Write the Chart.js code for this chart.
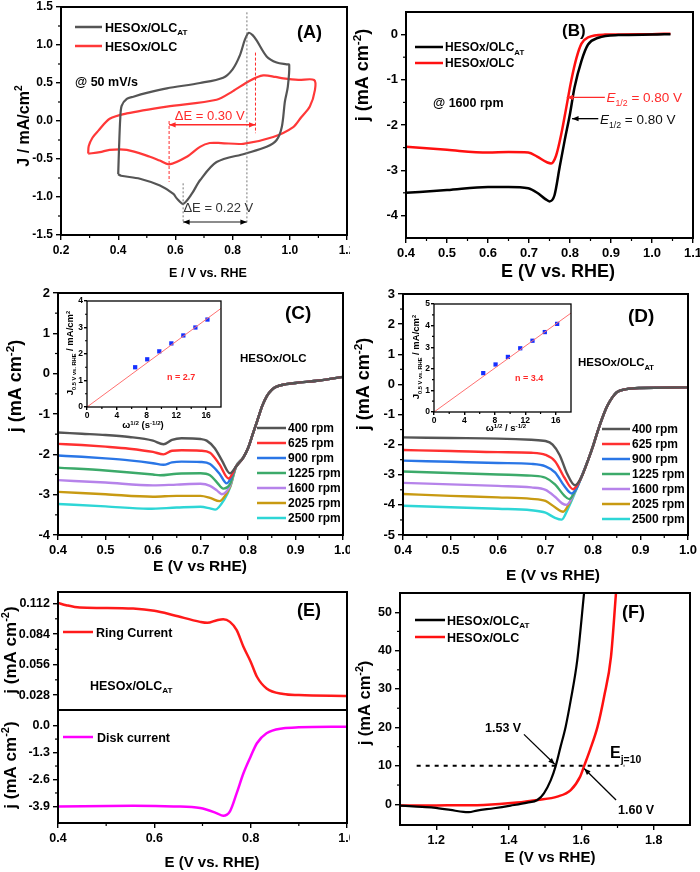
<!DOCTYPE html>
<html>
<head>
<meta charset="utf-8">
<script src="https://cdn.jsdelivr.net/npm/chart.js@4.4.1/dist/chart.umd.min.js"></script>
<style>
  body { margin: 0; background: #fff; width: 700px; height: 872px; position: relative; overflow: hidden; }
  canvas { position: absolute; }
</style>
</head>
<body>
<script>
// ---------- data ----------

// (A) cyclic voltammograms, E (V) / J (mA/cm2), closed loops
const cvAT = [[0.40,-0.70],[0.403,-0.35],[0.407,0.02],[0.412,0.20],[0.43,0.29],[0.453,0.32],[0.50,0.37],[0.57,0.43],[0.686,0.50],[0.767,0.57],[0.80,0.68],[0.825,0.86],[0.843,1.07],[0.856,1.16],[0.87,1.13],[0.884,1.06],[0.919,0.85],[0.954,0.77],[0.989,0.745],[0.998,0.74],[0.993,0.45],[0.983,0.26],[0.972,-0.08],[0.954,-0.25],[0.919,-0.34],[0.843,-0.43],[0.744,-0.54],[0.686,-0.78],[0.657,-0.96],[0.627,-1.09],[0.605,-1.02],[0.593,-0.96],[0.546,-0.85],[0.476,-0.76],[0.41,-0.72],[0.40,-0.70]];
const cvOLC = [[0.295,-0.43],[0.297,-0.33],[0.31,-0.22],[0.33,-0.13],[0.37,0.03],[0.43,0.10],[0.57,0.19],[0.744,0.28],[0.80,0.39],[0.86,0.53],[0.907,0.60],[0.95,0.58],[0.977,0.56],[1.03,0.54],[1.085,0.54],[1.088,0.41],[1.07,0.19],[1.04,0.05],[1.012,-0.08],[0.942,-0.21],[0.837,-0.30],[0.76,-0.29],[0.72,-0.29],[0.686,-0.34],[0.64,-0.47],[0.578,-0.57],[0.545,-0.52],[0.511,-0.47],[0.43,-0.38],[0.37,-0.38],[0.336,-0.41],[0.295,-0.43]];

// (B) LSV at 1600 rpm
const lsvAT = [[0.40,-3.50],[0.50,-3.44],[0.60,-3.37],[0.65,-3.37],[0.698,-3.40],[0.72,-3.50],[0.74,-3.64],[0.75,-3.69],[0.762,-3.56],[0.775,-2.92],[0.787,-2.34],[0.80,-1.75],[0.811,-1.17],[0.828,-0.58],[0.844,-0.22],[0.869,-0.07],[0.918,-0.01],[1.0,0.0],[1.045,0.01]];
const lsvOLC = [[0.40,-2.48],[0.50,-2.55],[0.60,-2.61],[0.65,-2.60],[0.698,-2.61],[0.72,-2.70],[0.745,-2.83],[0.754,-2.85],[0.766,-2.68],[0.779,-2.19],[0.791,-1.61],[0.803,-1.02],[0.816,-0.51],[0.828,-0.20],[0.844,-0.06],[0.885,0.0],[1.0,0.01],[1.045,0.02]];

// (C) HESOx/OLC at different rotation rates
const rpmLabels = ['400 rpm', '625 rpm', '900 rpm', '1225 rpm', '1600 rpm', '2025 rpm', '2500 rpm'];
const rpmColors = ['#555555', '#ff3030', '#2a76e6', '#3caa6a', '#b683ea', '#c89a12', '#2ed6d6'];
const cTail = [[0.775,-2.30],[0.79,-2.08],[0.80,-1.85],[0.81,-1.50],[0.82,-1.15],[0.83,-0.80],[0.84,-0.55],[0.85,-0.40],[0.86,-0.32],[0.88,-0.26],[0.90,-0.23],[0.95,-0.17],[1.0,-0.08]];
const c400 = [[0.40,-1.46],[0.45,-1.49],[0.50,-1.52],[0.55,-1.57],[0.60,-1.66],[0.622,-1.75],[0.64,-1.64],[0.66,-1.60],[0.70,-1.62],[0.713,-1.66],[0.73,-1.85],[0.745,-2.15],[0.762,-2.47]];
const c625 = [[0.40,-1.74],[0.45,-1.77],[0.50,-1.81],[0.55,-1.86],[0.60,-1.94],[0.622,-2.00],[0.64,-1.91],[0.66,-1.90],[0.70,-1.91],[0.72,-1.96],[0.74,-2.25],[0.759,-2.60]];
const c900 = [[0.40,-2.03],[0.45,-2.06],[0.50,-2.10],[0.55,-2.15],[0.60,-2.22],[0.622,-2.26],[0.64,-2.20],[0.66,-2.18],[0.70,-2.19],[0.72,-2.24],[0.74,-2.48],[0.755,-2.72]];
const c1225 = [[0.40,-2.33],[0.50,-2.40],[0.60,-2.50],[0.615,-2.52],[0.65,-2.48],[0.70,-2.47],[0.72,-2.52],[0.735,-2.70],[0.748,-2.85],[0.762,-2.74]];
const c1600 = [[0.40,-2.64],[0.50,-2.70],[0.60,-2.77],[0.65,-2.75],[0.70,-2.73],[0.72,-2.78],[0.735,-2.90],[0.745,-2.99],[0.762,-2.78]];
const c2025 = [[0.40,-2.93],[0.50,-2.99],[0.60,-3.05],[0.65,-3.03],[0.70,-3.03],[0.72,-3.08],[0.74,-3.16],[0.752,-3.02],[0.763,-2.78]];
const c2500 = [[0.40,-3.23],[0.50,-3.29],[0.59,-3.35],[0.65,-3.32],[0.70,-3.30],[0.72,-3.34],[0.731,-3.37],[0.75,-3.12],[0.763,-2.80]];

// (C) inset: Koutecky-Levich points
const klOmega = [6.47, 8.09, 9.71, 11.33, 12.94, 14.56, 16.18];
const klC = [1.50, 1.80, 2.10, 2.40, 2.70, 3.00, 3.30];
const klFitC = [[0, 0], [18, 3.72]];

// (D) HESOx/OLC_AT at different rotation rates
const dTail = [[0.775,-3.10],[0.79,-2.50],[0.80,-2.05],[0.81,-1.55],[0.82,-1.10],[0.83,-0.72],[0.84,-0.45],[0.85,-0.26],[0.87,-0.16],[0.90,-0.12],[1.0,-0.10]];
const d400 = [[0.40,-1.76],[0.50,-1.78],[0.60,-1.80],[0.67,-1.84],[0.70,-1.88],[0.715,-2.00],[0.73,-2.35],[0.745,-2.95],[0.762,-3.35]];
const d625 = [[0.40,-2.18],[0.50,-2.21],[0.60,-2.25],[0.67,-2.27],[0.70,-2.34],[0.72,-2.55],[0.74,-3.10],[0.758,-3.48]];
const d900 = [[0.40,-2.53],[0.50,-2.57],[0.60,-2.61],[0.67,-2.64],[0.70,-2.72],[0.72,-2.92],[0.74,-3.38],[0.755,-3.62],[0.765,-3.45]];
const d1225 = [[0.40,-2.89],[0.50,-2.94],[0.60,-2.99],[0.67,-3.03],[0.70,-3.10],[0.72,-3.32],[0.74,-3.70],[0.75,-3.81],[0.762,-3.55]];
const d1600 = [[0.40,-3.27],[0.50,-3.32],[0.60,-3.37],[0.67,-3.42],[0.70,-3.50],[0.72,-3.73],[0.735,-3.95],[0.744,-4.00],[0.758,-3.70]];
const d2025 = [[0.40,-3.64],[0.50,-3.70],[0.60,-3.75],[0.67,-3.80],[0.70,-3.87],[0.72,-4.08],[0.737,-4.23],[0.75,-3.95],[0.762,-3.55]];
const d2500 = [[0.40,-4.03],[0.50,-4.08],[0.60,-4.13],[0.67,-4.18],[0.70,-4.26],[0.72,-4.43],[0.734,-4.49],[0.748,-4.10],[0.762,-3.60]];

// (D) inset
const klD = [1.80, 2.20, 2.55, 2.95, 3.30, 3.70, 4.08];
const klFitD = [[0, 0], [18, 4.58]];

// (E) RRDE ring and disk currents
const ring = [[0.40,0.1126],[0.417,0.1105],[0.445,0.1083],[0.49,0.1080],[0.556,0.1074],[0.60,0.1053],[0.64,0.1013],[0.695,0.0952],[0.71,0.0943],[0.73,0.0967],[0.743,0.0976],[0.757,0.0952],[0.771,0.0876],[0.785,0.0723],[0.80,0.0586],[0.813,0.0448],[0.833,0.0341],[0.868,0.0290],[0.90,0.0280],[1.0,0.0271]];
const disk = [[0.40,-3.90],[0.556,-3.87],[0.64,-3.90],[0.695,-3.98],[0.729,-4.22],[0.743,-4.35],[0.757,-4.14],[0.771,-3.26],[0.785,-2.30],[0.80,-1.49],[0.813,-0.85],[0.833,-0.37],[0.868,-0.13],[0.90,-0.08],[1.0,-0.05]];

// (F) OER polarisation
const oerAT = [[1.10,-0.35],[1.146,-0.60],[1.192,-0.86],[1.239,-1.47],[1.275,-2.00],[1.29,-2.05],[1.312,-1.64],[1.359,-1.04],[1.405,-0.35],[1.451,0.43],[1.479,1.12],[1.497,2.85],[1.516,6.3],[1.529,9.8],[1.543,15.0],[1.557,20.2],[1.571,27.1],[1.589,37.5],[1.608,55.2]];
const oerOLC = [[1.10,-0.35],[1.20,-0.30],[1.331,-0.17],[1.423,0.43],[1.479,1.12],[1.534,2.0],[1.571,3.7],[1.597,7.2],[1.608,10.0],[1.624,14.1],[1.645,20.2],[1.663,28.0],[1.682,38.4],[1.696,55.2]];

// ---------- helpers ----------
const FONT = "'Liberation Sans', Arial, Helvetica, sans-serif";

function xy(pts) {
  return pts.map(p => ({ x: p[0], y: p[1] }));
}

function curve(pts, color, width, extra) {
  return Object.assign({
    data: xy(pts), borderColor: color, backgroundColor: color, borderWidth: width,
    pointRadius: 0, fill: false, cubicInterpolationMode: 'monotone'
  }, extra || {});
}

// text with sub/superscripts: parts = [[text, kind]], kind '' | 'sub' | 'sup' | 'i'
function drawRich(ctx, parts, x, y, o) {
  const weight = o.bold ? 'bold ' : '';
  const small = o.small || 0.65;
  const fontFor = k => {
    const sz = (k === 'sub' || k === 'sup') ? o.size * small : o.size;
    return (k === 'i' ? 'italic ' : '') + weight + sz + 'px ' + FONT;
  };
  ctx.save();
  ctx.fillStyle = o.color || '#000';
  ctx.textBaseline = 'alphabetic';
  let total = 0;
  parts.forEach(p => { ctx.font = fontFor(p[1]); total += ctx.measureText(p[0]).width; });
  ctx.translate(x, y);
  if (o.rotate) ctx.rotate(-Math.PI / 2);
  let cx = o.align === 'center' ? -total / 2 : 0;
  const base = o.size * 0.36;
  parts.forEach(p => {
    ctx.font = fontFor(p[1]);
    const dy = p[1] === 'sub' ? o.size * 0.3 : (p[1] === 'sup' ? -o.size * 0.4 : 0);
    ctx.fillText(p[0], cx, base + dy);
    cx += ctx.measureText(p[0]).width;
  });
  ctx.restore();
}

function head(ctx, x1, y1, x2, y2, size) {
  const ang = Math.atan2(y2 - y1, x2 - x1);
  ctx.beginPath();
  ctx.moveTo(x2, y2);
  ctx.lineTo(x2 - size * Math.cos(ang - 0.38), y2 - size * Math.sin(ang - 0.38));
  ctx.lineTo(x2 - size * Math.cos(ang + 0.38), y2 - size * Math.sin(ang + 0.38));
  ctx.closePath();
  ctx.fill();
}

// frame, minor ticks, annotations, legends and axis titles
function makeDeco(cfg) {
  return {
    id: 'deco',
    beforeDatasetsDraw(chart) {
      if (!cfg.bg) return;
      const a = chart.chartArea, ctx = chart.ctx;
      ctx.save();
      ctx.fillStyle = cfg.bg;
      ctx.fillRect(a.left, a.top, a.right - a.left, a.bottom - a.top);
      ctx.restore();
    },
    afterDraw(chart) {
      const ctx = chart.ctx, a = chart.chartArea;
      const xs = chart.scales.x, ys = chart.scales.y;
      const px = v => xs.getPixelForValue(v), py = v => ys.getPixelForValue(v);
      const ox = cfg.ox, oy = cfg.oy;
      ctx.save();

      // minor ticks halfway between the major ones
      const mids = t => t.slice(1).map((k, i) => (k.value + t[i].value) / 2);
      ctx.strokeStyle = '#000';
      ctx.lineWidth = 1.2;
      const ml = cfg.minorLen || 3;
      if (cfg.minorX !== false) {
        mids(xs.ticks).forEach(v => {
          const x = px(v);
          ctx.beginPath(); ctx.moveTo(x, a.bottom); ctx.lineTo(x, a.bottom + ml); ctx.stroke();
        });
      }
      if (cfg.minorY !== false) {
        mids(ys.ticks).forEach(v => {
          const y = py(v);
          ctx.beginPath(); ctx.moveTo(a.left - ml, y); ctx.lineTo(a.left, y); ctx.stroke();
        });
      }

      // dashed guide lines (data coordinates)
      (cfg.lines || []).forEach(l => {
        ctx.save();
        ctx.strokeStyle = l.color; ctx.lineWidth = l.w || 1;
        ctx.setLineDash(l.dash || []);
        ctx.beginPath();
        l.pts.forEach((p, i) => {
          const X = px(p[0]), Y = py(p[1]);
          if (i === 0) ctx.moveTo(X, Y); else ctx.lineTo(X, Y);
        });
        ctx.stroke();
        ctx.restore();
      });

      // arrows (data coordinates)
      (cfg.arrows || []).forEach(r => {
        const x1 = px(r.from[0]), y1 = py(r.from[1]), x2 = px(r.to[0]), y2 = py(r.to[1]);
        ctx.save();
        ctx.strokeStyle = r.color; ctx.fillStyle = r.head || r.color; ctx.lineWidth = r.w || 1.3;
        ctx.beginPath(); ctx.moveTo(x1, y1); ctx.lineTo(x2, y2); ctx.stroke();
        head(ctx, x1, y1, x2, y2, 7);
        if (r.both) head(ctx, x2, y2, x1, y1, 7);
        ctx.restore();
      });

      // legend entries (page coordinates)
      (cfg.legend || []).forEach(g => {
        ctx.save();
        ctx.strokeStyle = g.color; ctx.lineWidth = g.w || 2.5;
        ctx.beginPath(); ctx.moveTo(g.x1 - ox, g.y - oy); ctx.lineTo(g.x2 - ox, g.y - oy); ctx.stroke();
        ctx.restore();
        drawRich(ctx, g.parts, g.tx - ox, g.y - oy, { size: g.size, bold: true, color: '#000' });
      });

      // texts: page coordinates, or data coordinates when t.data is set
      (cfg.texts || []).forEach(t => {
        const X = t.data ? px(t.x) : t.x - ox;
        const Y = t.data ? py(t.y) : t.y - oy;
        drawRich(ctx, t.parts, X, Y, t);
      });

      // frame
      ctx.strokeStyle = '#000';
      ctx.lineWidth = cfg.frame || 2;
      ctx.strokeRect(a.left, a.top, a.right - a.left, a.bottom - a.top);
      ctx.restore();
    }
  };
}

function makeChart(p) {
  const cv = document.createElement('canvas');
  cv.width = p.box.w;
  cv.height = p.box.h;
  cv.style.left = p.box.left + 'px';
  cv.style.top = p.box.top + 'px';
  cv.style.width = p.box.w + 'px';
  cv.style.height = p.box.h + 'px';
  document.body.appendChild(cv);

  const yW = p.plot.l - p.box.left;
  const xH = p.box.top + p.box.h - p.plot.b;
  const padT = p.plot.t - p.box.top;
  const padR = p.box.left + p.box.w - p.plot.r;
  const tickFont = { family: FONT, size: p.tickSize, weight: 'bold' };
  const tl = p.tickLen || 5;

  p.deco.ox = p.box.left;
  p.deco.oy = p.box.top;

  return new Chart(cv, {
    type: 'line',
    data: { datasets: p.datasets },
    options: {
      responsive: false,
      animation: false,
      events: [],
      layout: { padding: { top: padT, right: padR, left: 0, bottom: 0 } },
      plugins: { legend: { display: false }, tooltip: { enabled: false } },
      scales: {
        x: {
          type: 'linear', min: p.x.min, max: p.x.max,
          afterBuildTicks: s => { s.ticks = p.x.ticks.map(v => ({ value: v })); },
          afterFit: s => { s.height = xH; s.paddingLeft = 0; s.paddingRight = 0; },
          ticks: {
            display: p.x.labels !== false, font: tickFont, color: '#000', padding: p.x.pad || 3,
            maxRotation: 0, autoSkip: false, callback: v => v.toFixed(p.x.dec)
          },
          grid: { display: p.x.labels !== false, drawOnChartArea: false, tickLength: tl, color: '#000', lineWidth: 1.4 },
          border: { display: false }
        },
        y: {
          type: 'linear', min: p.y.min, max: p.y.max,
          afterBuildTicks: s => { s.ticks = p.y.ticks.map(v => ({ value: v })); },
          afterFit: s => { s.width = yW; s.paddingTop = 0; s.paddingBottom = 0; },
          ticks: {
            font: tickFont, color: '#000', padding: p.y.pad || 3, autoSkip: false,
            callback: v => v.toFixed(p.y.dec)
          },
          grid: { drawOnChartArea: false, tickLength: tl, color: '#000', lineWidth: 1.4 },
          border: { display: false }
        }
      }
    },
    plugins: [makeDeco(p.deco)]
  });
}

const RED = '#ff2a2a';
const HESOX_AT = [['HESOx/OLC', ''], ['AT', 'sub']];
const HESOX = [['HESOx/OLC', '']];
const J_TITLE = [['j (mA cm', ''], ['-2', 'sup'], [')', '']];

// ---------- (A) ----------
makeChart({
  box: { left: 0, top: 0, w: 350, h: 282 },
  plot: { l: 61, t: 7, r: 347, b: 235 },
  x: { min: 0.2, max: 1.2, ticks: [0.2, 0.4, 0.6, 0.8, 1.0, 1.2], dec: 1 },
  y: { min: -1.5, max: 1.5, ticks: [-1.5, -1.0, -0.5, 0.0, 0.5, 1.0, 1.5], dec: 1 },
  tickSize: 12,
  datasets: [
    curve(cvAT, '#555555', 2.2, { cubicInterpolationMode: 'default', tension: 0.3 }),
    curve(cvOLC, '#ff3838', 2.2, { cubicInterpolationMode: 'default', tension: 0.3 })
  ],
  deco: {
    lines: [
      { pts: [[0.85, 1.43], [0.85, -1.35]], color: '#777', dash: [2, 2], w: 1 },
      { pts: [[0.627, -0.82], [0.627, -1.35]], color: '#777', dash: [2, 2], w: 1 },
      { pts: [[0.578, 0.0], [0.578, -0.8]], color: RED, dash: [3, 2], w: 1 },
      { pts: [[0.88, 0.9], [0.88, -0.16]], color: RED, dash: [3, 2], w: 1 }
    ],
    arrows: [
      { from: [0.578, -0.05], to: [0.88, -0.05], color: RED, both: true, w: 1.5 },
      { from: [0.627, -1.33], to: [0.85, -1.33], color: '#666', head: '#000', both: true, w: 1.5 }
    ],
    legend: [
      { x1: 75, x2: 102, y: 27, color: '#555555', parts: HESOX_AT, tx: 105, size: 12.5 },
      { x1: 75, x2: 102, y: 46, color: '#ff3838', parts: HESOX, tx: 105, size: 12.5 }
    ],
    texts: [
      { parts: [['(A)', '']], x: 297, y: 32, size: 18, bold: true },
      { parts: [['@ 50 mV/s', '']], x: 75, y: 81, size: 12.5, bold: true },
      { data: true, parts: [['ΔE = 0.30 V', '']], x: 0.72, y: 0.08, size: 13, align: 'center', color: RED },
      { data: true, parts: [['ΔE = 0.22 V', '']], x: 0.75, y: -1.14, size: 13, align: 'center', color: '#333' },
      { parts: [['E / V vs. RHE', '']], x: 208, y: 272, size: 12.5, bold: true, align: 'center' },
      { parts: [['J / mA/cm', ''], ['2', 'sup']], x: 23, y: 126, size: 16, bold: true, align: 'center', rotate: true }
    ]
  }
});

// ---------- (B) ----------
makeChart({
  box: { left: 350, top: 0, w: 350, h: 282 },
  plot: { l: 406, t: 12, r: 693, b: 238 },
  x: { min: 0.4, max: 1.1, ticks: [0.4, 0.5, 0.6, 0.7, 0.8, 0.9, 1.0, 1.1], dec: 1 },
  y: { min: -4.5, max: 0.5, ticks: [-4, -3, -2, -1, 0], dec: 0 },
  tickSize: 13,
  datasets: [
    curve(lsvAT, '#000000', 2.5),
    curve(lsvOLC, '#ff1010', 2.5)
  ],
  deco: {
    arrows: [
      { from: [0.885, -1.39], to: [0.792, -1.39], color: RED, w: 1.3 },
      { from: [0.869, -1.86], to: [0.805, -1.86], color: '#000', w: 1.3 }
    ],
    legend: [
      { x1: 415, x2: 443, y: 47, color: '#000', parts: HESOX_AT, tx: 445, size: 12 },
      { x1: 415, x2: 443, y: 63, color: '#ff1010', parts: HESOX, tx: 445, size: 12 }
    ],
    texts: [
      { parts: [['(B)', '']], x: 562, y: 30, size: 17, bold: true },
      { parts: [['@ 1600 rpm', '']], x: 433, y: 102, size: 12.5, bold: true },
      { data: true, parts: [['E', 'i'], ['1/2', 'sub'], [' = 0.80 V', '']], x: 0.889, y: -1.39, size: 13.5, color: RED },
      { data: true, parts: [['E', 'i'], ['1/2', 'sub'], [' = 0.80 V', '']], x: 0.873, y: -1.86, size: 13.5, color: '#111' },
      { parts: [['E (V vs. RHE)', '']], x: 558, y: 271, size: 18, bold: true, align: 'center' },
      { parts: J_TITLE, x: 362, y: 75, size: 18, bold: true, align: 'center', rotate: true }
    ]
  }
});

// ---------- (C) ----------
const cCurves = [c400, c625, c900, c1225, c1600, c2025, c2500];
makeChart({
  box: { left: 0, top: 282, w: 350, h: 306 },
  plot: { l: 58, t: 293, r: 343, b: 535 },
  x: { min: 0.4, max: 1.0, ticks: [0.4, 0.5, 0.6, 0.7, 0.8, 0.9, 1.0], dec: 1 },
  y: { min: -4, max: 2, ticks: [-4, -3, -2, -1, 0, 1, 2], dec: 0 },
  tickSize: 13,
  datasets: cCurves.map((c, i) => curve(c.concat(cTail), rpmColors[i], 2.4)),
  deco: {
    legend: rpmLabels.map((lab, i) => ({ x1: 257, x2: 286, y: 428 + i * 15, color: rpmColors[i], parts: [[lab, '']], tx: 288, size: 12 })),
    texts: [
      { parts: [['(C)', '']], x: 285, y: 312, size: 19, bold: true },
      { parts: HESOX, x: 240, y: 358, size: 11.5, bold: true },
      { parts: [['E (V vs RHE)', '']], x: 200, y: 565, size: 15.5, bold: true, align: 'center' },
      { parts: J_TITLE, x: 15, y: 386, size: 18, bold: true, align: 'center', rotate: true }
    ]
  }
});

// ---------- (D) ----------
const dCurves = [d400, d625, d900, d1225, d1600, d2025, d2500];
makeChart({
  box: { left: 350, top: 282, w: 350, h: 306 },
  plot: { l: 403, t: 294, r: 688, b: 535 },
  x: { min: 0.4, max: 1.0, ticks: [0.4, 0.5, 0.6, 0.7, 0.8, 0.9, 1.0], dec: 1 },
  y: { min: -5, max: 3, ticks: [-5, -4, -3, -2, -1, 0, 1, 2, 3], dec: 0 },
  tickSize: 13,
  datasets: dCurves.map((c, i) => curve(c.concat(dTail), rpmColors[i], 2.4)),
  deco: {
    legend: rpmLabels.map((lab, i) => ({ x1: 602, x2: 630, y: 429 + i * 15, color: rpmColors[i], parts: [[lab, '']], tx: 632, size: 12 })),
    texts: [
      { parts: [['(D)', '']], x: 628, y: 315, size: 19, bold: true },
      { parts: HESOX_AT, x: 578, y: 362, size: 11.5, bold: true },
      { parts: [['E (V vs RHE)', '']], x: 553, y: 574, size: 15.5, bold: true, align: 'center' },
      { parts: J_TITLE, x: 363, y: 384, size: 18, bold: true, align: 'center', rotate: true }
    ]
  }
});

// ---------- insets of (C) and (D) ----------
function klPoints(ys) {
  return ys.map((v, i) => [klOmega[i], v]);
}
const insetY = [['J', ''], ['0.5 V vs. RHE', 'sub'], [' / mA/cm', ''], ['2', 'sup']];

makeChart({
  box: { left: 60, top: 292, w: 170, h: 140 },
  plot: { l: 87, t: 301, r: 221, b: 407 },
  x: { min: 0, max: 18, ticks: [0, 4, 8, 12, 16], dec: 0, pad: 1 },
  y: { min: 0, max: 4, ticks: [0, 1, 2, 3, 4], dec: 0, pad: 1 },
  tickSize: 8.5, tickLen: 3,
  datasets: [
    curve(klFitC, '#ff7070', 1, { cubicInterpolationMode: 'default', tension: 0 }),
    curve(klPoints(klC), '#1530ff', 0, { showLine: false, pointRadius: 3, pointStyle: 'rect', pointBorderWidth: 0 })
  ],
  deco: {
    bg: '#fff', frame: 1.3, minorLen: 2,
    texts: [
      { parts: [['n = 2.7', '']], x: 167, y: 377, size: 9, bold: true, color: RED },
      { parts: [['ω', ''], ['1/2', 'sup'], [' (s', ''], ['-1/2', 'sup'], [')', '']], x: 143, y: 425, size: 9.5, bold: true, align: 'center' },
      { parts: insetY, x: 70, y: 353, size: 9.5, bold: true, align: 'center', rotate: true, small: 0.6 }
    ]
  }
});

makeChart({
  box: { left: 405, top: 295, w: 175, h: 140 },
  plot: { l: 434, t: 304, r: 571, b: 412 },
  x: { min: 0, max: 18, ticks: [0, 4, 8, 12, 16], dec: 0, pad: 1 },
  y: { min: 0, max: 5, ticks: [0, 1, 2, 3, 4, 5], dec: 0, pad: 1 },
  tickSize: 8.5, tickLen: 3,
  datasets: [
    curve(klFitD, '#ff7070', 1, { cubicInterpolationMode: 'default', tension: 0 }),
    curve(klPoints(klD), '#1530ff', 0, { showLine: false, pointRadius: 3, pointStyle: 'rect', pointBorderWidth: 0 })
  ],
  deco: {
    bg: '#fff', frame: 1.3, minorLen: 2,
    texts: [
      { parts: [['n = 3.4', '']], x: 515, y: 378, size: 9, bold: true, color: RED },
      { parts: [['ω', ''], ['1/2', 'sup'], [' / s', ''], ['-1/2', 'sup']], x: 506, y: 428, size: 9.5, bold: true, align: 'center' },
      { parts: insetY, x: 416, y: 357, size: 9.5, bold: true, align: 'center', rotate: true, small: 0.6 }
    ]
  }
});

// ---------- (E) ring (top) and disk (bottom) ----------
makeChart({
  box: { left: 0, top: 580, w: 350, h: 132 },
  plot: { l: 58, t: 592, r: 347, b: 710 },
  x: { min: 0.4, max: 1.0, ticks: [0.4, 0.6, 0.8, 1.0], dec: 1, labels: false },
  y: { min: 0.0143, max: 0.1226, ticks: [0.028, 0.056, 0.084, 0.112], dec: 3 },
  tickSize: 12.5,
  datasets: [curve(ring, '#ff1a1a', 2.5)],
  deco: {
    minorX: false,
    legend: [{ x1: 63, x2: 93, y: 632, color: '#ff1a1a', parts: [['Ring Current', '']], tx: 96, size: 12.5 }],
    texts: [
      { parts: [['(E)', '']], x: 297, y: 610, size: 18, bold: true },
      { parts: HESOX_AT, x: 90, y: 685, size: 12.5, bold: true },
      { parts: J_TITLE, x: 10, y: 650, size: 17, bold: true, align: 'center', rotate: true }
    ]
  }
});

makeChart({
  box: { left: 0, top: 708, w: 350, h: 164 },
  plot: { l: 58, t: 710, r: 347, b: 823 },
  x: { min: 0.4, max: 1.0, ticks: [0.4, 0.6, 0.8, 1.0], dec: 1 },
  y: { min: -4.7, max: 0.755, ticks: [-3.9, -2.6, -1.3, 0.0], dec: 1 },
  tickSize: 12.5,
  datasets: [curve(disk, '#ff00ff', 2.5)],
  deco: {
    legend: [{ x1: 63, x2: 93, y: 737, color: '#ff00ff', parts: [['Disk current', '']], tx: 97, size: 12.5 }],
    texts: [
      { parts: [['E (V vs. RHE)', '']], x: 212, y: 862, size: 15, bold: true, align: 'center' },
      { parts: J_TITLE, x: 10, y: 765, size: 17, bold: true, align: 'center', rotate: true }
    ]
  }
});

// ---------- (F) ----------
makeChart({
  box: { left: 350, top: 580, w: 350, h: 292 },
  plot: { l: 400, t: 593, r: 690, b: 825 },
  x: { min: 1.1, max: 1.9, ticks: [1.2, 1.4, 1.6, 1.8], dec: 1 },
  y: { min: -5.4, max: 55, ticks: [0, 10, 20, 30, 40, 50], dec: 0 },
  tickSize: 12.5,
  datasets: [
    curve(oerAT, '#000000', 2.2),
    curve(oerOLC, '#ff1010', 2.5)
  ],
  deco: {
    lines: [{ pts: [[1.146, 10], [1.719, 10]], color: '#000', dash: [4, 5], w: 2 }],
    arrows: [
      { from: [1.442, 18.2], to: [1.527, 10.4], color: '#000', w: 1.3 },
      { from: [1.696, 1.1], to: [1.608, 9.3], color: '#000', w: 1.3 }
    ],
    legend: [
      { x1: 415, x2: 445, y: 620, color: '#000', parts: HESOX_AT, tx: 447, size: 12.5 },
      { x1: 415, x2: 445, y: 637, color: '#ff1010', parts: HESOX, tx: 447, size: 12.5 }
    ],
    texts: [
      { parts: [['(F)', '']], x: 622, y: 612, size: 18, bold: true },
      { parts: [['1.53 V', '']], x: 485, y: 727, size: 12.5, bold: true },
      { parts: [['1.60 V', '']], x: 618, y: 809, size: 12.5, bold: true },
      { parts: [['E', ''], ['j=10', 'sub']], x: 610, y: 752, size: 16, bold: true },
      { parts: [['E (V vs RHE)', '']], x: 550, y: 857, size: 15, bold: true, align: 'center' },
      { parts: J_TITLE, x: 364, y: 703, size: 16.5, bold: true, align: 'center', rotate: true }
    ]
  }
});
</script>
</body>
</html>
